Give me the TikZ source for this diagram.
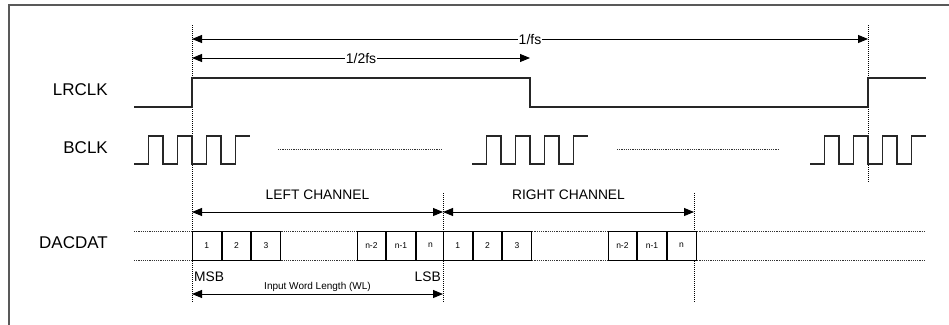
\documentclass[tikz,border=0pt]{standalone}
\usepackage{fontspec}
\setmainfont{Liberation Sans}
\usetikzlibrary{arrows.meta}
\newcommand\bclkburst[2]{%
  \draw[sig] (#1) -- ++(14.5,0) -- ++(0,-28) -- ++(14.5,0) -- ++(0,28)
    -- ++(14.5,0) -- ++(0,-28) -- ++(14.5,0) -- ++(0,28)
    -- ++(14.5,0) -- ++(0,-28) -- ++(14.5,0) -- ++(0,28)
    -- ++(14.5,0) -- ++(0,-28) -- ++(14.5,0) coordinate (#2);}
\begin{document}
\begin{tikzpicture}[x=1pt,y=-1pt,
  frame/.style={line width=2pt,draw=black!65},
  sig/.style={line width=1.1pt,draw=black!85},
  vdot/.style={line width=0.8pt,dash pattern=on 1pt off 1pt,draw=black},
  hdot/.style={line width=0.8pt,dash pattern=on 1.2pt off 1pt,draw=black!80},
  tip/.tip={Triangle[length=10pt,width=8pt]},
  dim/.style={line width=1pt,tip-tip},
  dimr/.style={line width=1pt,-tip},
  sigl/.style={anchor=east,inner sep=0pt,font=\fontsize{17}{20}\selectfont},
  lab/.style={inner sep=0.8pt,font=\fontsize{14}{16}\selectfont},
  chan/.style={inner sep=0pt,font=\fontsize{13.8}{16}\selectfont},
  bit/.style={draw,line width=0.8pt,fill=white,minimum width=28.8pt,minimum height=29pt,
    anchor=west,inner sep=0pt,font=\fontsize{8.5}{10}\selectfont}
]
\useasboundingbox (0,0) rectangle (949,324);
% frame
\draw[frame] (9,325) -- (9,5) -- (950,5);

% signal labels
\node[sigl] (lrl) at (108,90) {LRCLK};
\node[sigl] (bcl) at (108,148) {BCLK};
\node[sigl] (dal) at (108,243) {DACDAT};

% dotted verticals
\coordinate (v1t) at (192,25);  \coordinate (v1b) at (192,302);
\coordinate (v4t) at (868,25);  \coordinate (v4b) at (868,183);
\coordinate (v2t) at (443,193); \coordinate (v2b) at (443,302);
\coordinate (v3t) at (694,193); \coordinate (v3b) at (694,302);
\draw[vdot] (v1t) -- (v1b);
\draw[vdot] (v4t) -- (v4b);
\draw[vdot] (v2t) -- (v2b);
\draw[vdot] (v3t) -- (v3b);

% period arrows
\coordinate (fsA) at (192,39); \coordinate (fsB) at (868,39);
\coordinate (hfA) at (192,58); \coordinate (hfB) at (530,58);
\draw[dim] (fsA) -- node[lab,fill=white] (fsl) {1/fs} (fsB);
\draw[dim] (hfA) -- node[lab,fill=white] (hfl) {1/2fs} (hfB);

% LRCLK
\coordinate (lr0) at (134,107);
\coordinate (lr1) at (192,78);
\coordinate (lr2) at (530,107);
\coordinate (lr3) at (868,78);
\coordinate (lr4) at (926,78);
\draw[sig] (lr0) -| (lr1) -| (lr2) -| (lr3) -- (lr4);

% BCLK
\coordinate (bc1) at (134,164);
\coordinate (bc2) at (472,164);
\coordinate (bc3) at (810,164);
\bclkburst{bc1}{bc1e}
\bclkburst{bc2}{bc2e}
\bclkburst{bc3}{bc3e}
\coordinate (bd1a) at (278,149); \coordinate (bd1b) at (442,149);
\coordinate (bd2a) at (617,149); \coordinate (bd2b) at (779,149);
\draw[hdot] (bd1a) -- (bd1b);
\draw[hdot] (bd2a) -- (bd2b);

% channel arrows
\coordinate (chL) at (192,212); \coordinate (chM) at (443,212); \coordinate (chR) at (694,212);
\draw[dim] (chL) -- (chM);
\draw[dim] (chM) -- (chR);
\node[chan] (lcl) at (317.5,195) {LEFT CHANNEL};
\node[chan] (rcl) at (568.5,195) {RIGHT CHANNEL};

% DACDAT
\coordinate (dt0) at (134,231); \coordinate (dt1) at (926,231);
\coordinate (db0) at (134,260); \coordinate (db1) at (926,260);
\draw[hdot] (dt0) -- (dt1);
\draw[hdot] (db0) -- (db1);
\node[bit] (l1) at (192,245.5) {1};
\node[bit] (l2) at (l1.east) {2};
\node[bit] (l3) at (l2.east) {3};
\node[bit] (ln2) at (356.6,245.5) {n-2};
\node[bit] (ln1) at (ln2.east) {n-1};
\node[bit] (ln) at (ln1.east) {n};
\node[bit] (r1) at (443,245.5) {1};
\node[bit] (r2) at (r1.east) {2};
\node[bit] (r3) at (r2.east) {3};
\node[bit] (rn2) at (607.6,245.5) {n-2};
\node[bit] (rn1) at (rn2.east) {n-1};
\node[bit] (rn) at (rn1.east) {n};

% MSB / LSB / WL
\node[chan,anchor=west,inner xsep=2pt] (msb) at (192,277) {MSB};
\node[chan,anchor=east,inner xsep=2pt] (lsb) at (443,277) {LSB};
\coordinate (wlA) at (192,294); \coordinate (wlB) at (443,294);
\draw[dim] (wlA) -- (wlB);
\node[inner sep=0pt,font=\fontsize{10}{12}\selectfont] (wll) at (317.5,287) {Input Word Length (WL)};
\end{tikzpicture}
\end{document}
